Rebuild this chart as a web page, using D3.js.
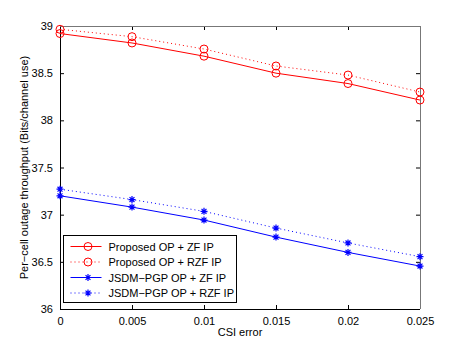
<!DOCTYPE html>
<html lang="en">
<head>
<meta charset="utf-8">
<title>Per-cell outage throughput vs CSI error</title>
<script src="https://d3js.org/d3.v7.min.js"></script>
<style>
  body { margin: 0; background: #fff; }
  svg text { font-family: "Liberation Sans", Arial, sans-serif; font-size: 11px; fill: #000; }
</style>
</head>
<body>
<div id="chart"></div>
<script>
// data
var csiError = [0, 0.005, 0.01, 0.015, 0.02, 0.025];
var propZF   = [38.92, 38.82, 38.68, 38.50, 38.39, 38.215];
var propRZF  = [38.965, 38.887, 38.756, 38.576, 38.48, 38.30];
var jsdmZF   = [37.20, 37.08, 36.943, 36.762, 36.60, 36.455];
var jsdmRZF  = [37.27, 37.16, 37.035, 36.858, 36.70, 36.555];
var xTicks = [0, 0.005, 0.01, 0.015, 0.02, 0.025];
var yTicks = [36, 36.5, 37, 37.5, 38, 38.5, 39];
var seriesNames = ["Proposed OP + ZF IP", "Proposed OP + RZF IP", "JSDM\u2212PGP OP + ZF IP", "JSDM\u2212PGP OP + RZF IP"];

var W = 463, H = 348;
var margin = {top: 26, right: 43, bottom: 39, left: 60};
var width = W - margin.left - margin.right,
    height = H - margin.top - margin.bottom;

var series = [
  {name: seriesNames[0], vals: propZF,  color: "#ff0000", dash: null,  marker: "o"},
  {name: seriesNames[1], vals: propRZF, color: "#ff0000", dash: "1,3", marker: "o"},
  {name: seriesNames[2], vals: jsdmZF,  color: "#0000ff", dash: null,  marker: "*"},
  {name: seriesNames[3], vals: jsdmRZF, color: "#0000ff", dash: "1,3", marker: "*"}
];

var svg = d3.select("#chart").append("svg")
  .attr("width", W).attr("height", H);
var g = svg.append("g")
  .attr("transform", "translate(" + margin.left + "," + margin.top + ")");

var x = d3.scaleLinear().domain([0, 0.025]).range([0, width]);
var y = d3.scaleLinear().domain([36, 39]).range([height, 0]);

// ticks inward, all four sides
var fmt = function(d) { return d3.format("~g")(d); };
g.append("g").attr("transform", "translate(0," + height + ")")
  .call(d3.axisBottom(x).tickValues(xTicks).tickSizeInner(-4).tickSizeOuter(0).tickPadding(8).tickFormat(fmt))
  .call(function(a) { a.select(".domain").remove(); });
g.append("g")
  .call(d3.axisLeft(y).tickValues(yTicks).tickSizeInner(-4).tickSizeOuter(0).tickPadding(7).tickFormat(fmt))
  .call(function(a) { a.select(".domain").remove(); });
g.append("g")
  .call(d3.axisTop(x).tickValues(xTicks).tickSizeInner(-4).tickSizeOuter(0).tickFormat(""))
  .call(function(a) { a.select(".domain").remove(); });
g.append("g").attr("transform", "translate(" + width + ",0)")
  .call(d3.axisRight(y).tickValues(yTicks).tickSizeInner(-4).tickSizeOuter(0).tickFormat(""))
  .call(function(a) { a.select(".domain").remove(); });
g.selectAll(".tick line").attr("stroke", "#000");
g.selectAll(".tick text").style("font-size", "11px").style("font-family", "'Liberation Sans', Arial, sans-serif");

// box
g.append("line").attr("x1", 0.5).attr("x2", 0.5).attr("y1", 0).attr("y2", height).attr("stroke", "#000");
g.append("line").attr("x1", 0).attr("x2", width).attr("y1", height + 0.5).attr("y2", height + 0.5).attr("stroke", "#000");
g.append("line").attr("x1", 0).attr("x2", width).attr("y1", 0.5).attr("y2", 0.5).attr("stroke", "#777");
g.append("line").attr("x1", width + 0.5).attr("x2", width + 0.5).attr("y1", 0).attr("y2", height).attr("stroke", "#777");

function drawMarker(sel, type, color) {
  if (type === "o") {
    sel.append("circle").attr("r", 4).attr("fill", "none").attr("stroke", color).attr("stroke-width", 1);
  } else {
    var s = 3.5;
    var p = "M" + (-s) + ",0H" + s + "M0," + (-s) + "V" + s +
            "M" + (-s * 0.7) + "," + (-s * 0.7) + "L" + (s * 0.7) + "," + (s * 0.7) +
            "M" + (-s * 0.7) + "," + (s * 0.7) + "L" + (s * 0.7) + "," + (-s * 0.7);
    sel.append("path").attr("d", p).attr("stroke", color).attr("stroke-width", 1.2).attr("fill", "none");
  }
}

var line = d3.line().x(function(d, i) { return x(csiError[i]); }).y(function(d) { return y(d); });

series.forEach(function(s) {
  g.append("path").datum(s.vals)
    .attr("d", line)
    .attr("fill", "none")
    .attr("stroke", s.color)
    .attr("stroke-width", 1)
    .attr("stroke-dasharray", s.dash);
  s.vals.forEach(function(v, i) {
    var m = g.append("g").attr("transform", "translate(" + x(csiError[i]) + "," + y(v) + ")");
    drawMarker(m, s.marker, s.color);
  });
});

// legend
var lg = svg.append("g").attr("transform", "translate(63.5,235.5)");
lg.append("rect").attr("width", 173).attr("height", 67).attr("fill", "#fff").attr("stroke", "#000");
series.forEach(function(s, i) {
  var yy = 11 + i * 15.5;
  lg.append("line").attr("x1", 7).attr("x2", 38).attr("y1", yy).attr("y2", yy)
    .attr("stroke", s.color).attr("stroke-dasharray", s.dash);
  var m = lg.append("g").attr("transform", "translate(24.5," + yy + ")");
  drawMarker(m, s.marker, s.color);
  lg.append("text").attr("x", 45).attr("y", yy + 4).text(s.name);
});

// axis labels
svg.append("text")
  .attr("x", margin.left + width / 2).attr("y", 336)
  .attr("text-anchor", "middle")
  .text("CSI error");
svg.append("text")
  .attr("transform", "translate(28," + (margin.top + height / 2) + ") rotate(-90)")
  .attr("text-anchor", "middle")
  .text("Per\u2212cell outage throughput (Bits/channel use)");
</script>
</body>
</html>
